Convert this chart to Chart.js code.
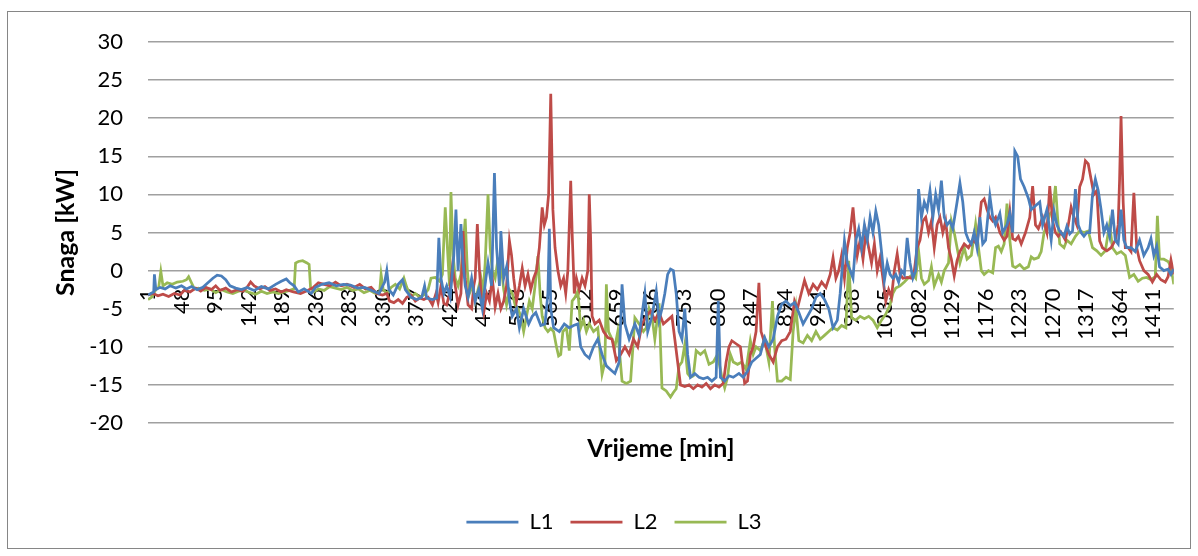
<!DOCTYPE html>
<html>
<head>
<meta charset="utf-8">
<script src="https://cdn.jsdelivr.net/npm/chart.js@4.4.1/dist/chart.umd.min.js"></script>
<style>
  html, body { margin: 0; padding: 0; background: #ffffff; }
  #wrap { position: relative; width: 1198px; height: 556px; }
</style>
</head>
<body>
<div id="wrap"><canvas id="c" width="1198" height="556"></canvas></div>
<script>
// ---- DATA (minute, kW) ----
const seriesNames = ['L1', 'L2', 'L3'];
const xTickLabels = [1, 48, 95, 142, 189, 236, 283, 330, 377, 424, 471, 518, 565, 612, 659, 706, 753, 800, 847, 894, 941, 988, 1035, 1082, 1129, 1176, 1223, 1270, 1317, 1364, 1411];
const yTicks = [-20, -15, -10, -5, 0, 5, 10, 15, 20, 25, 30];

const L1 = [[1,-3.2],[5,-3],[9,-2.8],[10,-0.5],[12,-2.5],[18,-2.2],[25,-2.4],[32,-2],[40,-2.3],[48,-2],[55,-2.4],[62,-2.1],[70,-2.5],[78,-2.2],[85,-1.6],[92,-1],[98,-0.6],[104,-0.7],[110,-1.2],[116,-2],[124,-2.3],[132,-2.5],[140,-2.2],[150,-2.6],[160,-2.1],[170,-2.4],[180,-1.8],[188,-1.4],[195,-1.1],[200,-1.6],[206,-2],[212,-2.8],[220,-2.4],[230,-3],[236,-2.2],[245,-1.8],[255,-1.6],[265,-2],[275,-1.8],[285,-1.9],[295,-2.3],[305,-2.2],[315,-2.6],[325,-3],[333,-1.5],[336,0],[339,-2.5],[345,-3.2],[352,-1.8],[358,-1.2],[362,-2.5],[370,-3.5],[378,-3.8],[385,-3.5],[389,-2],[392,-3.6],[400,-3.8],[406,-3.6],[409,4.3],[412,-1],[416,-3],[420,-2],[425,-3.5],[430,2],[433,8],[436,0],[440,6.1],[443,1],[446,-2],[450,-3.5],[455,-1],[460,-4],[465,-2.5],[470,-5],[475,-1],[478,1],[483,-2],[487,12.8],[490,3],[494,-2],[496,5.2],[500,-1],[504,0.5],[508,-4],[512,-6],[518,-5],[522,-7.5],[528,-5],[535,-7],[540,-6],[545,-5.5],[552,-7.2],[558,-7],[562,-3],[564,5.5],[566,-5],[570,-7.5],[578,-8],[585,-7],[592,-7.5],[598,-7.2],[604,-7],[608,-10],[614,-11],[620,-11.5],[626,-10],[632,-9],[638,-11],[644,-12.5],[650,-13],[656,-13.5],[662,-12],[666,-1.8],[670,-7],[676,-9],[684,-7],[690,-8.5],[698,-3],[702,-8],[708,-6],[714,-2.7],[718,-6.5],[722,-5],[726,-3],[730,-0.5],[734,0.2],[738,0],[742,-3],[746,-8],[750,-9],[754,-5],[758,-11],[762,-14],[768,-13.5],[774,-14],[780,-14.2],[786,-14],[792,-14.5],[798,-14],[801,-4],[804,-14],[810,-14.5],[816,-13.8],[822,-14],[830,-13.5],[836,-14],[842,-13.2],[848,-12],[854,-11.5],[860,-11],[866,-8.8],[872,-10],[878,-9],[884,-6],[890,-4.4],[896,-4],[902,-4.6],[908,-4.2],[914,-5.5],[920,-7],[926,-6],[932,-5],[938,-3.5],[944,-3],[950,-3.8],[956,-5],[962,-7.5],[968,-6.5],[972,-3],[978,3.9],[982,1],[986,0],[990,-1],[994,4],[998,5.5],[1002,3],[1006,6],[1010,4],[1014,7],[1018,5],[1022,7.8],[1026,6],[1030,2.5],[1034,-1.3],[1038,1],[1042,-0.5],[1046,-1],[1050,-0.5],[1054,-1.5],[1058,0],[1062,-0.5],[1066,4.3],[1070,1],[1074,-1],[1078,0],[1082,10.7],[1086,7],[1090,9],[1094,8],[1098,10.5],[1102,7],[1106,10],[1110,8],[1114,11.8],[1118,7],[1122,6],[1126,6.5],[1130,5.5],[1136,9],[1140,11.5],[1144,9],[1148,5],[1152,4],[1156,3.5],[1160,5],[1164,3],[1168,7],[1172,3.5],[1176,4],[1182,9.8],[1186,7],[1190,6],[1196,7.5],[1200,5],[1206,6],[1210,7.5],[1214,5],[1217,15.7],[1221,15],[1225,12],[1230,11],[1236,9.5],[1240,8],[1246,8.5],[1252,9],[1256,6],[1262,8],[1268,4],[1272,7.8],[1276,6],[1280,5.2],[1286,4.5],[1290,5.8],[1294,4.8],[1298,5.2],[1302,10.7],[1306,6],[1310,5],[1314,4.5],[1318,5],[1322,5],[1326,10],[1330,12],[1334,10.5],[1338,8],[1342,5],[1346,6],[1350,4.5],[1354,8],[1358,4],[1362,3.5],[1366,8],[1370,4],[1374,3],[1380,3],[1386,2.5],[1392,4],[1398,2],[1404,3],[1408,4.2],[1412,2],[1416,3.2],[1420,0.5],[1426,0],[1432,0.2],[1436,-0.5],[1440,0.2]];

const L2 = [[1,-3.2],[8,-3],[15,-3.3],[22,-3.1],[30,-3.4],[38,-3],[46,-3.2],[52,-2.6],[60,-2.8],[68,-2.3],[75,-2.7],[82,-2.2],[90,-2.5],[96,-2],[102,-2.6],[110,-2.3],[118,-2.8],[126,-2.5],[134,-2.7],[140,-2.2],[145,-1.5],[150,-2],[158,-2.4],[165,-2.1],[172,-2.6],[180,-2.4],[188,-2.8],[195,-2.5],[205,-2.8],[215,-3],[225,-2.6],[233,-2.2],[240,-1.6],[248,-1.8],[256,-2],[264,-1.5],[272,-2],[280,-1.8],[290,-2.2],[298,-1.8],[306,-2.4],[314,-2.2],[322,-3],[330,-3.2],[336,-3],[340,-4],[346,-4.2],[352,-3.8],[358,-4.3],[364,-3.5],[370,-3.2],[376,-4],[382,-3.6],[388,-3.8],[394,-3.5],[400,-4.5],[405,-3],[408,-4.2],[412,-2],[416,-4.3],[420,-4.5],[424,-3],[428,0.5],[432,-2],[436,-4.5],[440,-3],[443,5.2],[446,-1],[450,-4.5],[455,-5],[458,-2],[460,-1],[463,6.1],[466,0],[469,-4],[472,-5.5],[476,-3],[480,-4],[484,-1],[488,-4.8],[492,-3],[496,-5],[500,-4],[504,-2],[508,3.9],[511,2],[514,-1],[518,-4],[522,-2],[526,0.3],[530,-2],[534,-0.5],[538,-2.5],[542,-1],[546,0],[550,3],[554,8.3],[557,6],[560,7],[563,10],[566,23.2],[569,8],[572,3],[576,0],[580,-2],[584,-1],[587,-3],[590,0],[594,11.8],[596,5],[599,-3],[602,-1],[606,-2.5],[610,-1],[614,-2],[618,0],[620,10],[622,4],[624,-6],[628,-7],[634,-6.5],[640,-8],[646,-8.8],[652,-9],[658,-11.8],[664,-11],[670,-10],[676,-11],[682,-9],[688,-10],[694,-7],[700,-6],[706,-5.3],[712,-6.5],[718,-5.5],[724,-7],[730,-6.5],[736,-6],[740,-9],[744,-12],[748,-15],[754,-15.2],[760,-15],[766,-15.5],[772,-15],[778,-15.3],[784,-14.8],[790,-15.5],[796,-15],[802,-15.3],[808,-14.8],[812,-12],[816,-10],[820,-9.2],[826,-9.6],[832,-10],[838,-14.8],[842,-14.5],[846,-11],[850,-10],[854,-8],[858,-1.6],[861,-8],[866,-9.5],[872,-11],[878,-12],[884,-10],[890,-9.2],[896,-9],[902,-8],[908,-4],[912,-5],[916,-3.5],[922,-1.3],[928,-3],[934,-1.8],[940,-2.5],[946,-1.5],[952,-2.2],[958,-0.5],[962,1.7],[966,-1],[970,0],[974,2],[978,-1],[982,3],[986,5],[990,8.3],[993,5],[996,2],[1000,4],[1004,1.5],[1008,5],[1012,3],[1016,1],[1020,3.5],[1024,0],[1028,1.7],[1032,-1],[1036,-4],[1040,-2.5],[1044,-3.5],[1048,0],[1052,2.2],[1056,-0.5],[1060,-1],[1066,-0.9],[1072,-1],[1076,0],[1080,3],[1084,4],[1088,6.5],[1092,7],[1096,5],[1100,6.5],[1104,3],[1108,6],[1112,7],[1116,5],[1120,6.5],[1124,3],[1128,1.5],[1132,-0.7],[1136,1.3],[1140,2.5],[1146,3.5],[1152,3],[1158,4],[1164,3.5],[1170,9],[1174,9.4],[1178,8],[1182,7],[1186,6.5],[1190,7],[1196,5],[1202,4],[1206,4.5],[1210,7.8],[1214,4.2],[1218,4],[1222,4.5],[1226,3.5],[1232,5],[1238,7],[1242,11.1],[1246,6],[1250,5.5],[1256,7],[1262,5],[1266,11.1],[1270,6.5],[1274,5],[1278,4.5],[1282,5],[1288,4],[1292,6],[1296,8.3],[1300,7],[1304,6],[1308,11],[1312,12],[1316,14.4],[1320,14],[1324,12],[1328,10],[1332,10.5],[1336,3.9],[1340,3],[1346,2.6],[1352,3],[1358,4],[1362,6],[1364,12],[1366,20.3],[1369,9],[1372,3],[1376,3],[1380,2.5],[1384,10.2],[1388,3],[1392,1.3],[1398,0],[1404,-0.5],[1410,-1.5],[1416,-0.5],[1422,-1.2],[1428,-1.5],[1432,-0.8],[1436,1.4],[1440,-0.5]];

const L3 = [[1,-3.8],[6,-3.5],[12,-2.5],[16,-2.2],[19,-0.1],[22,-2],[28,-1.6],[35,-1.8],[42,-1.5],[50,-1.4],[55,-1.2],[58,-0.8],[62,-1.6],[66,-2.4],[72,-2.3],[80,-2.6],[88,-2.4],[96,-2.9],[104,-2.5],[112,-2.8],[120,-3],[128,-2.7],[136,-2.6],[144,-2.9],[152,-3.1],[160,-2.7],[168,-3],[176,-2.8],[184,-3],[192,-2.8],[200,-2.6],[206,-2.4],[208,1],[212,1.2],[218,1.3],[224,1],[227,0.8],[229,-2.2],[234,-2.8],[240,-2.4],[248,-2.6],[256,-2.1],[264,-2.3],[272,-2.5],[280,-2.2],[288,-2.6],[296,-2.4],[304,-2.9],[312,-2.6],[320,-3],[326,-2.8],[328,-0.5],[331,-2.5],[336,-3],[342,-2.2],[348,-1.8],[354,-2.4],[360,-1],[364,-2.2],[370,-3.4],[376,-3],[382,-3.5],[388,-3.2],[394,-2.5],[398,-1],[404,-0.9],[410,-1.4],[414,-0.5],[418,8.3],[421,3],[424,-2],[426,10.3],[429,2],[432,-1],[436,-2],[440,-0.5],[446,6.8],[449,0],[452,-3],[456,-2],[460,-4],[464,-2.5],[468,-1],[471,-3],[474,1],[478,10],[481,3],[484,0],[488,-1],[492,1.5],[496,1],[500,-2.5],[504,-4.5],[508,-2.5],[512,-3],[516,-4.5],[520,-5],[524,-6],[528,-8],[532,-6],[536,-4],[540,-5],[544,-2],[548,1.9],[551,-3],[554,-6],[558,-7.5],[562,-8],[566,-7.6],[570,-8],[574,-10],[577,-11.2],[580,-11],[583,-8],[588,-7.5],[592,-10.5],[596,-4],[600,-3.5],[604,-2.7],[608,-7.5],[612,-6.5],[616,-8],[620,-7],[626,-8],[632,-7.5],[638,-13.6],[642,-12],[644,-1.8],[647,-8],[652,-9],[656,-10],[660,-8],[666,-14.5],[672,-14.8],[678,-14.5],[684,-6.2],[690,-7],[696,-8],[700,-7.5],[704,-5],[708,-6],[712,-9],[718,-4.3],[722,-15.4],[728,-15.8],[734,-16.6],[738,-16],[742,-15.5],[746,-12.5],[750,-12],[754,-9.7],[758,-13.5],[762,-14],[766,-13.8],[770,-10.5],[776,-11],[782,-10.5],[788,-12.3],[794,-12],[800,-11],[806,-14],[810,-15.4],[814,-14],[818,-11],[822,-12],[828,-12.3],[834,-12],[840,-13],[846,-9.2],[850,-11],[854,-10],[860,-10.5],[866,-9],[872,-12],[877,-4],[880,-10],[884,-14.5],[890,-14.5],[896,-14],[902,-14.3],[906,-8],[910,-4.9],[914,-9.2],[920,-9.5],[926,-8.5],[932,-9.2],[938,-8],[944,-9],[950,-8.5],[956,-8],[962,-7.5],[968,-7.8],[974,-7.2],[980,-7.5],[984,1.3],[988,-6.2],[994,-6.5],[1000,-6],[1006,-6.3],[1012,-6],[1018,-6.5],[1024,-7.5],[1030,-6.5],[1036,-5.7],[1042,-4.5],[1046,-3],[1050,-2.3],[1056,-2],[1062,-1.5],[1068,-0.9],[1074,-0.5],[1078,-1],[1082,2.6],[1086,-1],[1090,-1.8],[1096,-1.3],[1100,0.5],[1104,-2],[1110,-0.5],[1114,-1.5],[1118,0],[1124,1],[1128,6.5],[1132,5],[1136,3],[1140,1],[1146,3],[1150,1.5],[1156,2],[1162,6.1],[1166,3],[1170,0],[1174,-0.5],[1180,0],[1186,-0.3],[1190,3],[1194,3.2],[1198,2.5],[1202,3.5],[1206,8.8],[1210,4],[1214,0.6],[1218,0.4],[1224,0.8],[1230,0.2],[1236,0.5],[1240,1.8],[1244,1.5],[1250,1.7],[1254,2.5],[1258,5],[1262,6],[1266,7.4],[1270,7.8],[1274,11.1],[1277,7],[1280,3.5],[1286,3],[1290,4],[1296,3.5],[1302,4.5],[1308,5.2],[1314,5],[1320,5.2],[1326,3],[1332,2.6],[1338,2],[1344,2.6],[1350,6.1],[1354,3],[1360,2.2],[1366,2.5],[1372,2],[1378,-0.9],[1384,-0.5],[1390,-1.4],[1396,-1],[1402,-0.9],[1408,-1.2],[1414,-0.8],[1417,7.2],[1420,1.5],[1426,1.5],[1432,1.2],[1436,0.5],[1440,-1.8]];

const seriesColors = ['#4A7EBB', '#BE4B48', '#98B954'];
// ------------------------------------------------

const toXY = arr => arr.map(p => ({ x: p[0], y: p[1] }));
const allSeries = [L1, L2, L3];

const frame = {
  id: 'frame',
  beforeDraw(chart) {
    const ctx = chart.ctx;
    ctx.save();
    ctx.fillStyle = '#ffffff';
    ctx.fillRect(0, 0, chart.width, chart.height);
    ctx.strokeStyle = '#868686';
    ctx.lineWidth = 1;
    ctx.strokeRect(7.5, 11.5, 1183, 537);
    ctx.restore();
  }
};

const FONT = 'Lato, "Open Sans", sans-serif';

new Chart(document.getElementById('c'), {
  type: 'line',
  data: {
    datasets: seriesNames.map((n, i) => ({
      label: n,
      data: toXY(allSeries[i]),
      borderColor: seriesColors[i],
      backgroundColor: seriesColors[i],
      borderWidth: 2.75,
      pointRadius: 0,
      tension: 0,
      fill: false
    }))
  },
  options: {
    responsive: false,
    animation: false,
    layout: { padding: { left: 48, right: 18, top: 42, bottom: 13 } },
    scales: {
      x: {
        type: 'linear',
        min: 1,
        max: 1440,
        position: { y: 0 },
        grid: { display: false, drawTicks: false },
        border: { display: true, color: '#a0a0a0', width: 1 },
        afterBuildTicks: s => { s.ticks = xTickLabels.map(v => ({ value: v })); },
        ticks: {
          autoSkip: false,
          minRotation: 90,
          maxRotation: 90,
          padding: 18,
          color: '#000',
          font: { family: FONT, size: 22 },
          callback: v => String(v)
        }
      },
      y: {
        min: -20,
        max: 30,
        afterBuildTicks: s => { s.ticks = yTicks.map(v => ({ value: v })); },
        afterFit: s => { s.width = 100; },
        grid: { color: '#a0a0a0', lineWidth: 1.5, drawTicks: false },
        border: { display: false },
        ticks: {
          padding: 25,
          color: '#000',
          font: { family: FONT, size: 22 },
          callback: v => String(v)
        },
        title: {
          display: true,
          text: 'Snaga [kW]',
          color: '#000',
          font: { family: FONT, size: 25, weight: 'bold' },
          padding: { top: 3, bottom: 0 }
        }
      }
    },
    plugins: {
      title: {
        display: true,
        text: 'Vrijeme [min]',
        position: 'bottom',
        fullSize: false,
        weight: 500,
        color: '#000',
        font: { family: FONT, size: 25, weight: 'bold' },
        padding: { top: 11, bottom: 30 }
      },
      legend: {
        position: 'bottom',
        labels: {
          usePointStyle: true,
          pointStyle: 'line',
          pointStyleWidth: 52,
          padding: 17,
          color: '#000',
          font: { family: FONT, size: 22 }
        }
      },
      tooltip: { enabled: false }
    }
  },
  plugins: [frame]
});
</script>
</body>
</html>
